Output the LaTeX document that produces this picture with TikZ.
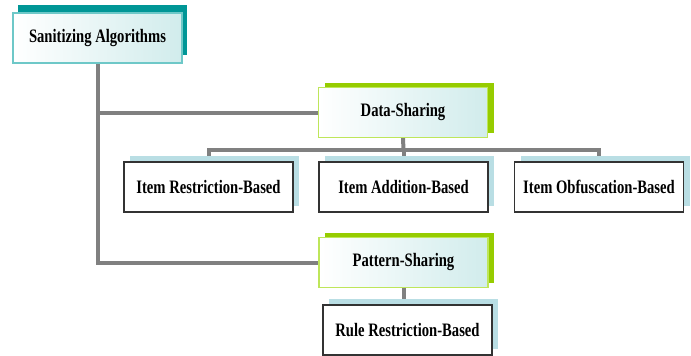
\documentclass[tikz,border=0pt]{standalone}
\usepackage{fontspec}
\setmainfont{Liberation Serif}
\newfontfamily\boxfont[FakeStretch=0.77]{Liberation Serif}
\usetikzlibrary{positioning, shadows, backgrounds, calc}
\definecolor{rootteal}{RGB}{0, 150, 150}
\definecolor{rootline}{RGB}{110, 200, 200}
\definecolor{branchgreen}{RGB}{150, 204, 0}
\definecolor{branchline}{RGB}{190, 230, 90}
\definecolor{leafblue}{RGB}{185, 222, 228}
\definecolor{linkgray}{RGB}{128, 128, 128}

\begin{document}
\begin{tikzpicture}[
    x=1pt, y=-1pt,
    root/.style={rectangle, minimum width=169pt, minimum height=50pt, text centered, draw=rootline, line width=1.2pt, left color=white, right color=rootteal!18, font=\boxfont\bfseries\fontsize{19}{20}\selectfont, copy shadow={shadow xshift=5pt, shadow yshift=8pt, fill=rootteal, draw=none}},
    branch/.style={rectangle, minimum width=169pt, minimum height=50pt, text centered, draw=branchline, line width=1.2pt, left color=white, right color=rootteal!18, font=\boxfont\bfseries\fontsize{19}{20}\selectfont, copy shadow={shadow xshift=6pt, shadow yshift=5pt, fill=branchgreen, draw=none}},
    leaf/.style={rectangle, minimum width=169pt, minimum height=50pt, text centered, draw=black!80, line width=1.2pt, fill=white, font=\boxfont\bfseries\fontsize{19}{20}\selectfont, copy shadow={shadow xshift=6pt, shadow yshift=6pt, fill=leafblue, draw=none}},
    link/.style={draw=linkgray, line width=4pt}
]
    \useasboundingbox (0,0) rectangle (691,356);

    % Top level
    \node[root] (sanit) at (97.5,38) {Sanitizing Algorithms};

    % Sharing kinds
    \node[branch] (data) at (403,112.5) {Data-Sharing};
    \node[branch] (pattern) at (403.5,262.5) {Pattern-Sharing};

    % Data-sharing methods
    \node[leaf] (itemR) at (208.5,187) {Item Restriction-Based};
    \node[leaf] (itemA) at (403.5,187) {Item Addition-Based};
    \node[leaf] (itemO) at (599,187) {Item Obfuscation-Based};
    \coordinate (bar) at (403.5,150);

    % Pattern-sharing method
    \node[leaf] (rule) at (407.5,330) {Rule Restriction-Based};

    % Connections
    \begin{scope}[on background layer]
        \draw[link] (sanit.south) |- (data.west);
        \draw[link] (sanit.south) |- (pattern.west);
        \draw[link] (data.south) -- (bar);
        \draw[link] (itemR.north) |- (bar) -| (itemO.north);
        \draw[link] (bar) -- (itemA.north);
        \draw[link] (pattern.south) -- (pattern.south |- rule.north);
    \end{scope}

\end{tikzpicture}
\end{document}
